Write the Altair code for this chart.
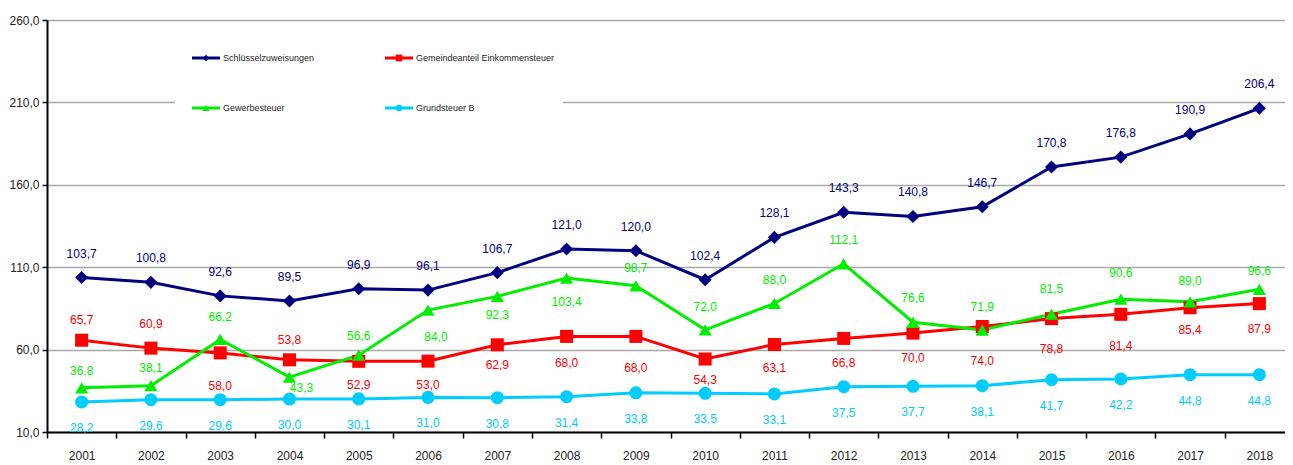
import altair as alt
import pandas as pd

years = ["2001", "2002", "2003", "2004", "2005", "2006", "2007", "2008", "2009",
         "2010", "2011", "2012", "2013", "2014", "2015", "2016", "2017", "2018"]

series_names = ["Schlüsselzuweisungen", "Gemeindeanteil Einkommensteuer",
                "Gewerbesteuer", "Grundsteuer B"]

schluessel = [103.7, 100.8, 92.6, 89.5, 96.9, 96.1, 106.7, 121.0, 120.0,
              102.4, 128.1, 143.3, 140.8, 146.7, 170.8, 176.8, 190.9, 206.4]
einkommen = [65.7, 60.9, 58.0, 53.8, 52.9, 53.0, 62.9, 68.0, 68.0,
             54.3, 63.1, 66.8, 70.0, 74.0, 78.8, 81.4, 85.4, 87.9]
gewerbe = [36.8, 38.1, 66.2, 43.3, 56.6, 84.0, 92.3, 103.4, 98.7,
           72.0, 88.0, 112.1, 76.6, 71.9, 81.5, 90.6, 89.0, 96.6]
grundsteuer = [28.2, 29.6, 29.6, 30.0, 30.1, 31.0, 30.8, 31.4, 33.8,
               33.5, 33.1, 37.5, 37.7, 38.1, 41.7, 42.2, 44.8, 44.8]

# label placement (pixel offsets of the value labels, style only)
schluessel_dy = [-24] * 18
einkommen_dy = [-20, -24, 33, -20, 24, 24, 20, 27, 32, 21, 24, 25, 25, 34, 30, 32, 22, 25]
gewerbe_dy = [-17, -18, -22, 11, -19, 27, 19, 24, -18, -23, -23, -24, -24, -23, -25, -26, -21, -18]
grund_dy = [26] * 18
zero_dx = [0] * 18
gewerbe_dx = [0, 0, 0, 12, 0, 8, 0, 0, 0, 0, 0, 0, 0, 0, 0, 0, 0, 0]

colors = ["#000080", "#FF0000", "#00EE00", "#00CCFF"]
shapes = ["diamond", "square", "triangle-up", "circle"]

FONT = "Liberation Sans, Arial, sans-serif"

values = [schluessel, einkommen, gewerbe, grundsteuer]
dys = [schluessel_dy, einkommen_dy, gewerbe_dy, grund_dy]
dxs = [zero_dx, zero_dx, gewerbe_dx, zero_dx]

rows = []
for i, name in enumerate(series_names):
    for j, yr in enumerate(years):
        v = values[i][j]
        rows.append({
            "year": yr, "series": name, "value": v,
            "label": f"{v:.1f}".replace(".", ","),
            "dy": dys[i][j], "dx": dxs[i][j], "order": i,
        })
df = pd.DataFrame(rows)

color_scale = alt.Scale(domain=series_names, range=colors)
shape_scale = alt.Scale(domain=series_names, range=shapes)

PLOT_W = 1238
PLOT_H = 412

x_enc = alt.X("year:N", sort=years, bandPosition=0.5,
              scale=alt.Scale(type="band", paddingInner=0, paddingOuter=0,
                              range=[0, 1247]),
              axis=alt.Axis(title=None, labelAngle=0, tickBand="extent", grid=False,
                            domainColor="black", domainWidth=2, tickColor="black",
                            tickWidth=1.5, tickSize=6, labelPadding=12,
                            labelFont=FONT, labelFontSize=12, labelColor="#222222"))
y_enc = alt.Y("value:Q",
              scale=alt.Scale(domain=[10, 260], nice=False, zero=False),
              axis=alt.Axis(title=None, values=[10, 60, 110, 160, 210, 260],
                            labelExpr="replace(format(datum.value, '.1f'), '.', ',')",
                            grid=True, gridColor="#a8a8a8", gridWidth=1.5,
                            domainColor="black", domainWidth=2, tickColor="black",
                            tickWidth=1.5, tickSize=5, labelPadding=3,
                            labelFont=FONT, labelFontSize=12, labelColor="#222222"))

base = alt.Chart(df)

lines = base.mark_line(strokeWidth=3).encode(
    x=x_enc, y=y_enc,
    color=alt.Color("series:N", scale=color_scale, legend=None),
    detail="series:N",
)
points = base.mark_point(filled=True, opacity=1, size=170).encode(
    x=x_enc, y=y_enc,
    color=alt.Color("series:N", scale=color_scale, legend=None),
    shape=alt.Shape("series:N", scale=shape_scale, legend=None),
)
labels = base.mark_text(font=FONT, fontSize=12, baseline="middle", align="center",
                        dy=alt.ExprRef(expr="datum.dy"),
                        dx=alt.ExprRef(expr="datum.dx")).encode(
    x=x_enc, y=y_enc, text="label:N",
    color=alt.Color("series:N", scale=color_scale, legend=None),
)

# legend box (white) and entries
box = alt.Chart(pd.DataFrame({"k": [0]})).mark_rect(color="white").encode(
    x=alt.value(128), x2=alt.value(516), y=alt.value(18), y2=alt.value(112))

legend_layers = []
for i, name in enumerate(series_names):
    col, row = i % 2, i // 2
    lx = 145 + col * 193
    ly = 38 + row * 50
    d = alt.Chart(pd.DataFrame({"series": [name]}))
    legend_layers.append(d.mark_rule(strokeWidth=3, color=colors[i]).encode(
        x=alt.value(lx), x2=alt.value(lx + 28), y=alt.value(ly)))
    legend_layers.append(d.mark_point(filled=True, opacity=1, size=45, shape=shapes[i],
                                      color=colors[i]).encode(
        x=alt.value(lx + 14), y=alt.value(ly)))
    legend_layers.append(d.mark_text(font=FONT, fontSize=9, align="left",
                                     baseline="middle", color="#222222").encode(
        x=alt.value(lx + 31), y=alt.value(ly), text="series:N"))

chart = alt.layer(box, lines, points, labels, *legend_layers).properties(
    width=PLOT_W, height=PLOT_H,
    padding={"left": 39, "top": 12, "right": 0, "bottom": 40},
    autosize=alt.AutoSizeParams(type="none"),
).configure_view(stroke=None)

chart.save("out.html", embed_options={"renderer": "svg", "actions": False})
